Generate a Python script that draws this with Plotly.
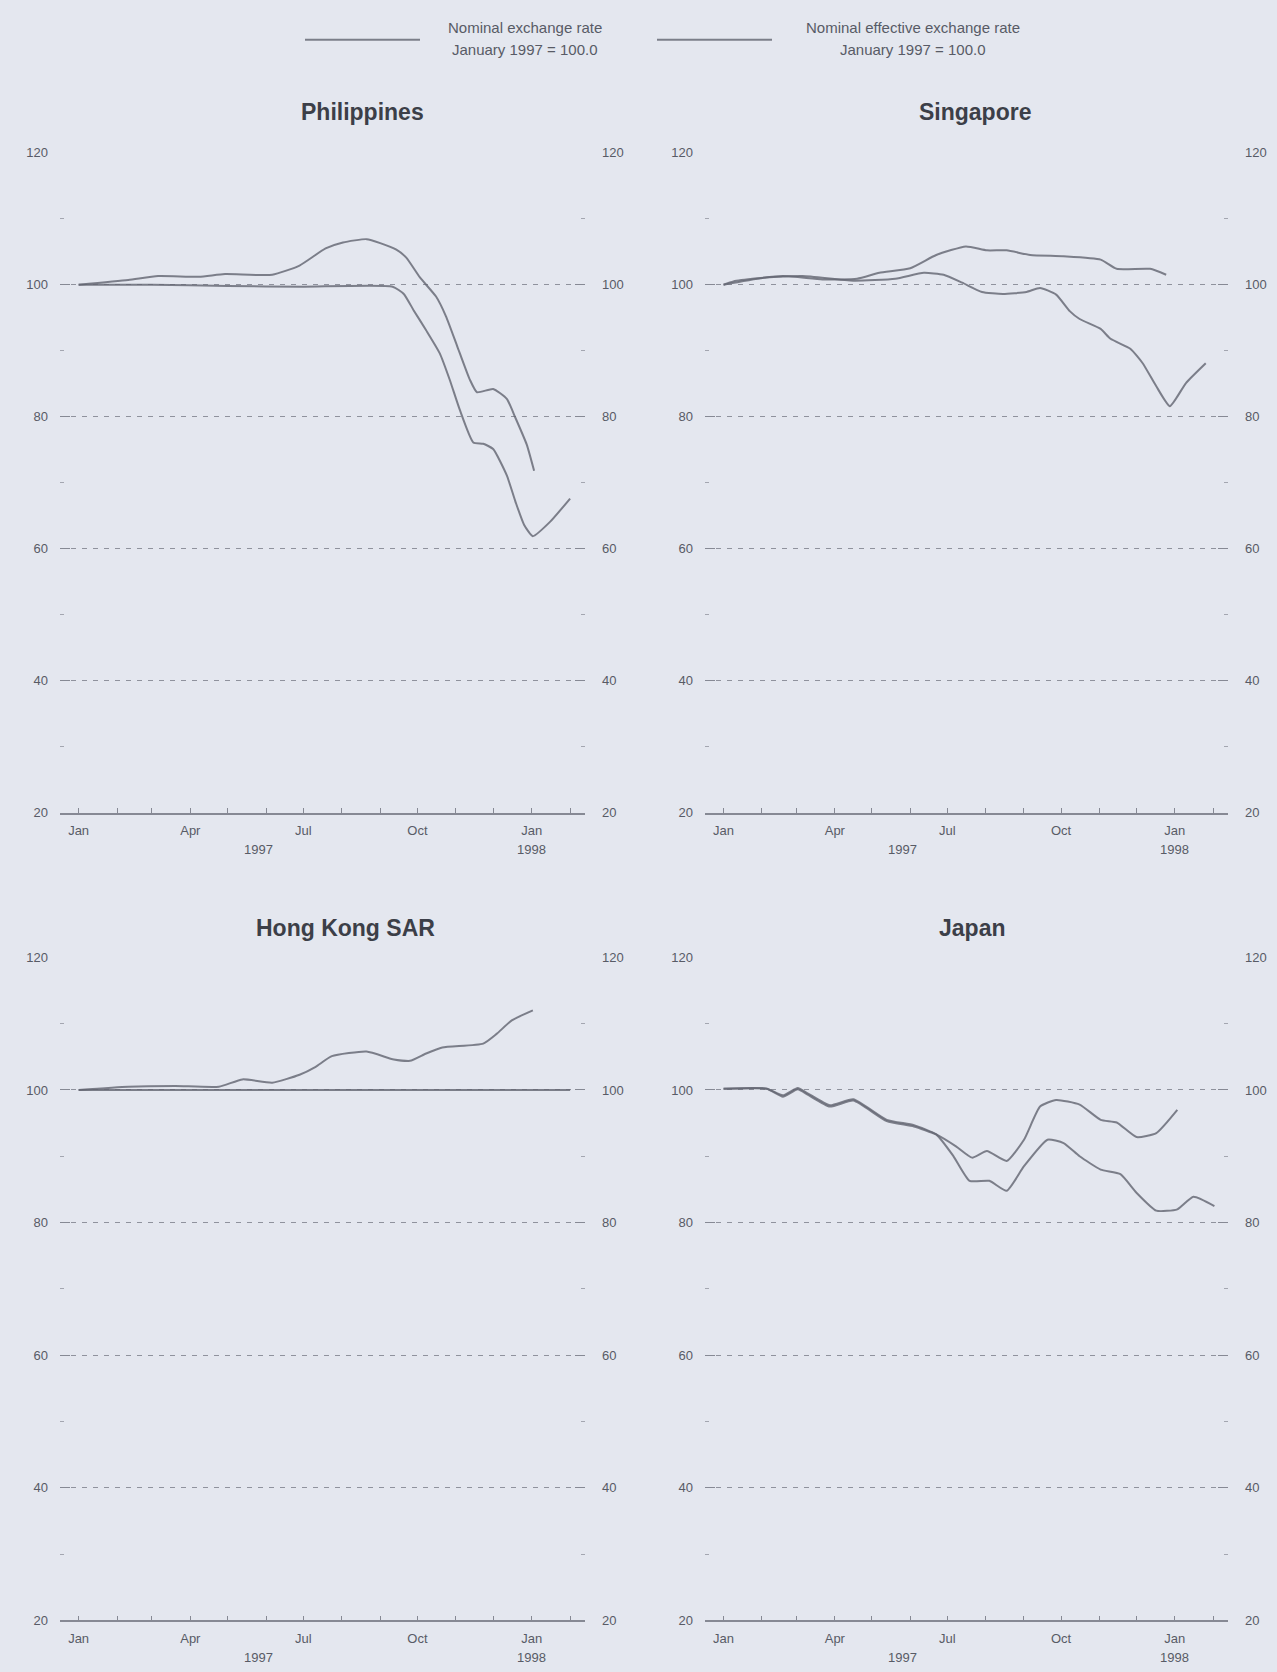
import plotly.graph_objects as go

# ---------------- data ----------------
ph_nom_dates = ["1997-01-01", "1997-03-01", "1997-05-01", "1997-07-01", "1997-09-11", "1997-09-20",
                "1997-09-28", "1997-10-08", "1997-10-19", "1997-10-27", "1997-11-04", "1997-11-15",
                "1997-11-23", "1997-12-01", "1997-12-12", "1997-12-19", "1997-12-26", "1998-01-02",
                "1998-01-16", "1998-02-01"]
ph_nom = [100.0, 100.0, 99.8, 99.7, 99.7, 98.6, 96.1, 93.1, 89.6, 85.6, 81.1, 76.1, 75.9, 75.1,
          71.1, 67.1, 63.6, 61.9, 64.1, 67.6]
ph_neer_dates = ["1997-01-01", "1997-02-10", "1997-03-06", "1997-04-08", "1997-04-29", "1997-06-06",
                 "1997-06-28", "1997-07-19", "1997-08-02", "1997-08-21", "1997-09-01", "1997-09-14",
                 "1997-09-22", "1997-10-03", "1997-10-16", "1997-10-24", "1997-11-02", "1997-11-12",
                 "1997-11-18", "1997-12-01", "1997-12-12", "1997-12-19", "1997-12-28", "1998-01-03"]
ph_neer = [100.0, 100.7, 101.3, 101.2, 101.6, 101.5, 102.9, 105.5, 106.4, 106.9, 106.3, 105.3,
           104.1, 101.1, 98.2, 95.2, 90.7, 85.7, 83.7, 84.2, 82.7, 79.8, 75.8, 71.8]

sg_nom_dates = ["1997-01-01", "1997-02-05", "1997-03-06", "1997-04-16", "1997-05-20", "1997-06-12",
                "1997-06-28", "1997-07-13", "1997-07-29", "1997-08-15", "1997-09-03", "1997-09-14",
                "1997-09-27", "1997-10-08", "1997-10-16", "1997-11-02", "1997-11-10", "1997-11-26",
                "1997-12-06", "1997-12-17", "1997-12-28", "1998-01-10", "1998-01-26"]
sg_nom = [100.0, 101.1, 101.3, 100.6, 100.9, 101.8, 101.5, 100.3, 98.9, 98.6, 98.9, 99.5, 98.5,
          96.0, 94.8, 93.3, 91.8, 90.3, 88.1, 84.6, 81.6, 85.1, 88.1]
sg_neer_dates = ["1997-01-01", "1997-01-09", "1997-02-18", "1997-03-22", "1997-04-19", "1997-05-07",
                 "1997-06-01", "1997-06-22", "1997-07-16", "1997-08-02", "1997-08-18", "1997-09-06",
                 "1997-10-03", "1997-11-02", "1997-11-15", "1997-12-12", "1997-12-25"]
sg_neer = [100.0, 100.5, 101.3, 100.8, 100.9, 101.8, 102.5, 104.5, 105.8, 105.2, 105.2, 104.5,
           104.3, 103.8, 102.4, 102.4, 101.5]

hk_nom_dates = ["1997-01-01", "1997-04-01", "1997-07-01", "1997-10-01", "1998-01-01", "1998-02-01"]
hk_nom = [100.0, 100.0, 100.0, 100.0, 100.0, 100.0]
hk_neer_dates = ["1997-01-01", "1997-02-10", "1997-03-20", "1997-04-24", "1997-05-13", "1997-06-06",
                 "1997-06-28", "1997-07-11", "1997-07-24", "1997-08-21", "1997-09-12", "1997-09-25",
                 "1997-10-08", "1997-10-21", "1997-11-23", "1997-12-04", "1997-12-16", "1998-01-02"]
hk_neer = [100.0, 100.5, 100.6, 100.5, 101.6, 101.1, 102.3, 103.5, 105.1, 105.8, 104.6, 104.4,
           105.5, 106.4, 107.0, 108.5, 110.5, 112.0]

jp_nom_dates = ["1997-01-01", "1997-02-05", "1997-02-18", "1997-03-02", "1997-03-10", "1997-03-28",
                "1997-04-16", "1997-05-13", "1997-06-04", "1997-06-22", "1997-07-06", "1997-07-19",
                "1997-08-04", "1997-08-18", "1997-09-01", "1997-09-20", "1997-10-03", "1997-10-16",
                "1997-11-02", "1997-11-18", "1997-12-01", "1997-12-17", "1998-01-03", "1998-01-16",
                "1998-02-02"]
jp_nom = [100.2, 100.2, 99.2, 100.3, 99.5, 97.7, 98.6, 95.5, 94.7, 93.3, 90.0, 86.3, 86.3, 84.8,
          88.5, 92.5, 92.0, 90.0, 88.0, 87.3, 84.5, 81.8, 82.0, 83.9, 82.5]
jp_neer_dates = ["1997-01-01", "1997-02-05", "1997-02-18", "1997-03-02", "1997-03-10", "1997-03-28",
                 "1997-04-16", "1997-05-13", "1997-06-04", "1997-06-22", "1997-07-08", "1997-07-21",
                 "1997-08-02", "1997-08-18", "1997-09-01", "1997-09-14", "1997-09-27", "1997-10-16",
                 "1997-11-02", "1997-11-15", "1997-12-01", "1997-12-17", "1998-01-03"]
jp_neer = [100.2, 100.2, 99.0, 100.1, 99.3, 97.5, 98.4, 95.3, 94.5, 93.3, 91.5, 89.8, 90.8, 89.3,
           92.5, 97.5, 98.5, 97.8, 95.5, 95.1, 92.9, 93.5, 97.0]

panel_titles = ["Philippines", "Singapore", "Hong Kong SAR", "Japan"]
legend_line1 = ["Nominal exchange rate", "Nominal effective exchange rate"]
legend_line2 = ["January 1997 = 100.0", "January 1997 = 100.0"]
y_ticks = [20, 40, 60, 80, 100, 120]
month_ticks = ["1997-01-01", "1997-02-01", "1997-03-01", "1997-04-01", "1997-05-01", "1997-06-01",
               "1997-07-01", "1997-08-01", "1997-09-01", "1997-10-01", "1997-11-01", "1997-12-01",
               "1998-01-01", "1998-02-01"]
month_labels = ["Jan", "", "", "Apr", "", "", "Jul", "", "", "Oct", "", "", "Jan", ""]
year_labels = ["1997", "1998"]
year_dates = ["1997-05-26", "1998-01-01"]

panels = [
    (panel_titles[0], ph_nom_dates, ph_nom, ph_neer_dates, ph_neer),
    (panel_titles[1], sg_nom_dates, sg_nom, sg_neer_dates, sg_neer),
    (panel_titles[2], hk_nom_dates, hk_nom, hk_neer_dates, hk_neer),
    (panel_titles[3], jp_nom_dates, jp_nom, jp_neer_dates, jp_neer),
]

# ---------------- styling / layout ----------------
W, H = 1277, 1672
BG = "#e4e7ef"
LINE = "rgba(100,103,115,0.82)"
AXC = "#868994"
TXT = "#585b66"
FONT = "Liberation Sans, Arial, sans-serif"

x_domains = [[60 / W, 585 / W], [705 / W, 1228 / W]]
y_domains = [[1 - 813 / H, 1 - 147 / H], [1 - 1628 / H, 1 - 959 / H]]
title_pos = [(362 / W, 1 - 106 / H), (975 / W, 1 - 106 / H), (345 / W, 1 - 929 / H), (972 / W, 1 - 929 / H)]

fig = go.Figure()
layout = dict(width=W, height=H, paper_bgcolor=BG, plot_bgcolor=BG,
              margin=dict(l=0, r=0, t=0, b=0), showlegend=False,
              font=dict(family=FONT, size=13, color=TXT))
annotations = []
shapes = []

for i, (title, nd, nv, ed, ev) in enumerate(panels):
    col = i % 2
    row = i // 2
    xi = i + 1
    yl = i + 1          # left y axis
    yr = i + 5          # right y axis (mirror labels)
    xname = "xaxis" if xi == 1 else f"xaxis{xi}"
    yname = "yaxis" if yl == 1 else f"yaxis{yl}"
    xref = "x" if xi == 1 else f"x{xi}"
    yref = "y" if yl == 1 else f"y{yl}"

    fig.add_trace(go.Scatter(x=nd, y=nv, mode="lines", xaxis=xref, yaxis=yref,
                             line=dict(color=LINE, width=2, shape="spline", smoothing=0.5),
                             hoverinfo="skip"))
    fig.add_trace(go.Scatter(x=ed, y=ev, mode="lines", xaxis=xref, yaxis=f"y{yr}",
                             line=dict(color=LINE, width=2, shape="spline", smoothing=0.5),
                             hoverinfo="skip"))

    layout[xname] = dict(domain=x_domains[col], anchor=yref, type="date",
                         range=["1996-12-17", "1998-02-13"],
                         tickvals=month_ticks, ticktext=month_labels,
                         ticks="inside", ticklen=5, tickcolor=AXC, tickwidth=1,
                         ticklabelstandoff=5,
                         showline=True, linecolor=AXC, linewidth=1.5,
                         showgrid=False, zeroline=False,
                         tickfont=dict(size=13, color=TXT, family=FONT))
    common_y = dict(range=[20, 120], tickvals=y_ticks, ticks="inside", ticklen=10,
                    tickcolor=AXC, tickwidth=1, showline=False, zeroline=False,
                    minor=dict(dtick=10, tick0=10, ticks="inside", ticklen=4, tickcolor="#a3a6b0"),
                    tickfont=dict(size=13, color=TXT, family=FONT))
    layout[yname] = dict(domain=y_domains[row], anchor=xref, side="left",
                         showgrid=True, gridcolor="#8f929d", gridwidth=1, griddash="5px,6px",
                         ticklabelstandoff=11, **common_y)
    layout[f"yaxis{yr}"] = dict(overlaying=yref, anchor=xref, side="right",
                                showgrid=False, ticklabelstandoff=16, **common_y)

    tx, ty = title_pos[i]
    annotations.append(dict(text=f"<b>{title}</b>", x=tx, y=ty, xref="paper", yref="paper",
                            showarrow=False, xanchor="center", yanchor="middle",
                            font=dict(size=23, color="#3c3f48", family=FONT)))
    for ylab, yd in zip(year_labels, year_dates):
        annotations.append(dict(text=ylab, x=yd, y=y_domains[row][0], xref=xref, yref="paper",
                                showarrow=False, xanchor="center", yanchor="middle", yshift=-37,
                                font=dict(size=13, color=TXT, family=FONT)))

# legend (drawn manually at the top)
leg = [((305, 420), 525), ((657, 772), 913)]
for (x0, x1), tcx in leg:
    shapes.append(dict(type="line", xref="paper", yref="paper", x0=x0 / W, x1=x1 / W,
                       y0=1 - 33 / H, y1=1 - 33 / H, line=dict(color=LINE, width=2)))
for l1, l2, (_, tcx) in zip(legend_line1, legend_line2, leg):
    annotations.append(dict(text=l1, x=tcx / W, y=1 - 21 / H, xref="paper", yref="paper",
                            showarrow=False, xanchor="center", yanchor="middle",
                            font=dict(size=15, color=TXT, family=FONT)))
    annotations.append(dict(text=l2, x=tcx / W, y=1 - 43 / H, xref="paper", yref="paper",
                            showarrow=False, xanchor="center", yanchor="middle",
                            font=dict(size=15, color=TXT, family=FONT)))

layout["annotations"] = annotations
layout["shapes"] = shapes
fig.update_layout(**layout)
fig.write_html("out.html", config={"displayModeBar": False},
               post_script="document.body.style.margin='0';document.body.style.background='#e4e7ef';")
